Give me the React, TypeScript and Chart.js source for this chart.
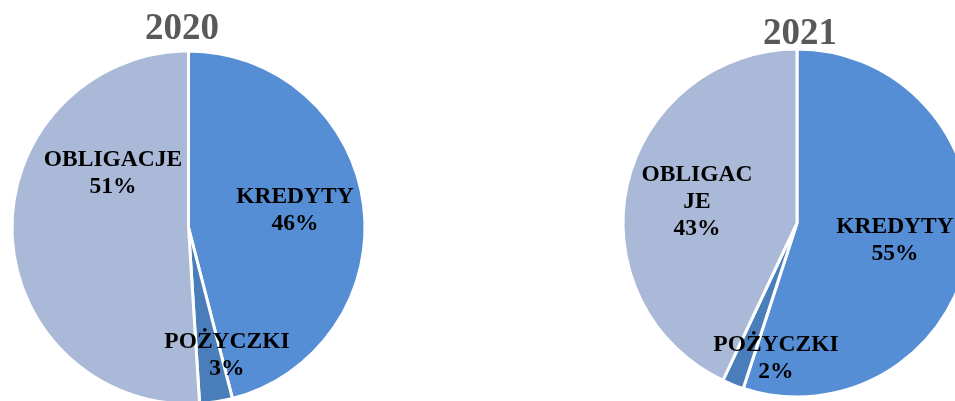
import React, { useEffect, useRef } from "react";
import { Chart, registerables } from "chart.js";

Chart.register(...registerables);

// ---- data ----
const categories = ["KREDYTY", "POŻYCZKI", "OBLIGACJE"];
const values2020 = [46, 3, 51];
const values2021 = [55, 2, 43];
const title2020 = "2020";
const title2021 = "2021";
// label text lines (category name as shown, wrapped like the original)
const labelLines2020 = [["KREDYTY"], ["POŻYCZKI"], ["OBLIGACJE"]];
const labelLines2021 = [["KREDYTY"], ["POŻYCZKI"], ["OBLIGAC", "JE"]];
const colors = ["#558ED5", "#4A7EBB", "#AAB9D7"];

// ---- layout (positions / sizes) ----
const CANVAS_W = 1000;
const CANVAS_H = 480;
const pieLayouts = [
  {
    left: 12,
    top: 51,
    radius: 176.5,
    titleDx: -6.5,
    titleDy: -21.5,
    labelOffsets: [
      [0.603, -0.099],
      [0.218, 0.722],
      [-0.428, -0.309],
    ],
  },
  {
    left: 623,
    top: 49,
    radius: 174,
    titleDx: 3,
    titleDy: -15,
    labelOffsets: [
      [0.563, 0.098],
      [-0.121, 0.779],
      [-0.575, -0.121],
    ],
  },
];

const LABEL_FONT = "bold 23.5px 'Liberation Serif', 'Times New Roman', serif";
const TITLE_FONT = "bold 37px 'Liberation Serif', 'Times New Roman', serif";
const LINE_H = 27;

function makeChart(
  canvas: HTMLCanvasElement,
  values: number[],
  lines: string[][],
  title: string,
  layout: (typeof pieLayouts)[number]
) {
  const size = layout.radius * 2;
  const labelPlugin = {
    id: "pieLabels",
    afterDatasetsDraw(chart: any) {
      const ctx = chart.ctx;
      const meta = chart.getDatasetMeta(0);
      ctx.save();
      ctx.textAlign = "center";
      ctx.textBaseline = "middle";
      ctx.fillStyle = "#000000";
      ctx.font = LABEL_FONT;
      meta.data.forEach((arc: any, i: number) => {
        const r = arc.outerRadius;
        const [ox, oy] = layout.labelOffsets[i];
        const cx = arc.x + ox * r;
        const cy = arc.y + oy * r;
        const textLines = [...lines[i], values[i] + "%"];
        const startY = cy - ((textLines.length - 1) * LINE_H) / 2;
        textLines.forEach((t, k) => ctx.fillText(t, cx, startY + k * LINE_H));
      });
      // title
      const a0: any = meta.data[0];
      ctx.font = TITLE_FONT;
      ctx.fillStyle = "#595959";
      ctx.fillText(title, a0.x + layout.titleDx, a0.y - a0.outerRadius + layout.titleDy);
      ctx.restore();
    },
  };

  return new Chart(canvas, {
    type: "pie",
    data: {
      labels: categories,
      datasets: [
        {
          data: values,
          backgroundColor: colors,
          borderColor: "#FFFFFF",
          borderWidth: 3,
          radius: layout.radius,
        } as any,
      ],
    },
    options: {
      animation: false,
      responsive: false,
      maintainAspectRatio: false,
      layout: {
        padding: {
          left: layout.left,
          top: layout.top,
          right: CANVAS_W - layout.left - size,
          bottom: CANVAS_H - layout.top - size,
        },
      },
      plugins: {
        legend: { display: false },
        tooltip: { enabled: false },
        title: { display: false },
      },
    },
    plugins: [labelPlugin],
  });
}

export default function App() {
  const ref1 = useRef<HTMLCanvasElement>(null);
  const ref2 = useRef<HTMLCanvasElement>(null);

  useEffect(() => {
    const c1 = makeChart(ref1.current!, values2020, labelLines2020, title2020, pieLayouts[0]);
    const c2 = makeChart(ref2.current!, values2021, labelLines2021, title2021, pieLayouts[1]);
    return () => {
      c1.destroy();
      c2.destroy();
    };
  }, []);

  const canvasStyle: React.CSSProperties = {
    position: "absolute",
    left: 0,
    top: 0,
    width: CANVAS_W,
    height: CANVAS_H,
  };

  return (
    <div
      style={{
        position: "fixed",
        left: 0,
        top: 0,
        width: 955,
        height: 401,
        overflow: "hidden",
        background: "#FFFFFF",
      }}
    >
      <canvas ref={ref1} width={CANVAS_W} height={CANVAS_H} style={canvasStyle} />
      <canvas ref={ref2} width={CANVAS_W} height={CANVAS_H} style={canvasStyle} />
    </div>
  );
}
